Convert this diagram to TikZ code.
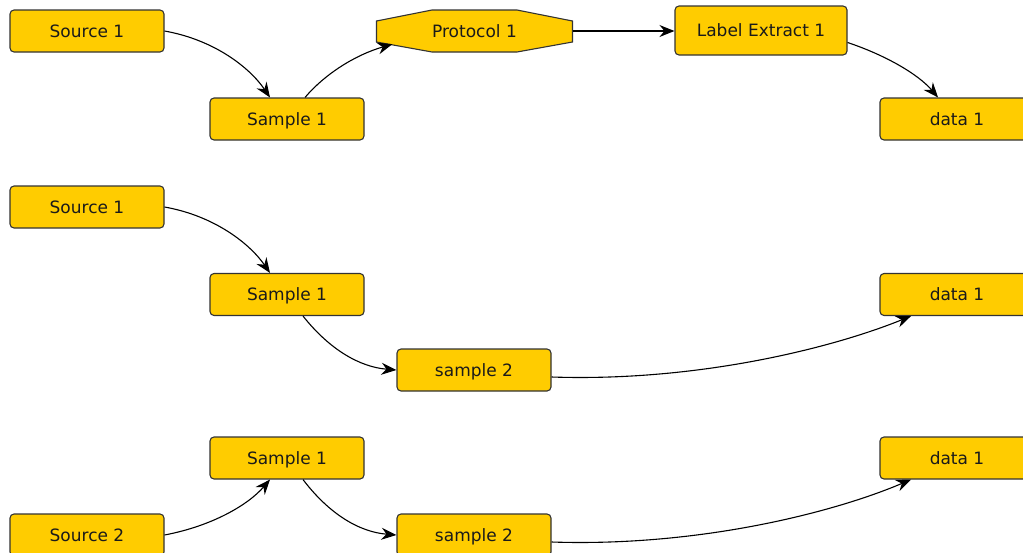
\documentclass[tikz,border=0pt]{standalone}
\usepackage{fontspec}
\setmainfont{DejaVu Sans}
\usetikzlibrary{arrows.meta,calc}
\definecolor{gold}{HTML}{FFCC00}
\definecolor{edgec}{HTML}{333333}
\definecolor{textc}{HTML}{1A1A1A}
\begin{document}
\begin{tikzpicture}[x=1pt,y=-1pt,
  box/.style={draw=edgec, fill=gold, rounded corners=4pt, line width=1.1pt,
    minimum width=154pt, minimum height=42pt, inner sep=0pt,
    text height=12.4pt, text depth=0pt,
    font=\fontsize{17}{20}\selectfont, text=textc},
  octlabel/.style={minimum width=196pt, minimum height=42pt, inner sep=0pt,
    text height=12.4pt, text depth=0pt,
    font=\fontsize{17}{20}\selectfont, text=textc},
  conn/.style={-{Stealth[length=15pt,width=12pt,inset=5pt]}, line width=1.1pt, black}]
\useasboundingbox (0,0) rectangle (1023,552);
\clip (0,0) rectangle (1023,552);

% ---------- row 1 ----------
\node[box] (so1) at (87,31) {Source 1};
\node[box] (sa1) at (287,119) {Sample 1};
\coordinate (pc) at (474.5,31);
\draw[draw=edgec, fill=gold, line width=1.1pt, line join=miter]
  ($(pc)+(-42.5,-21)$) -- ($(pc)+(42.5,-21)$) -- ($(pc)+(98,-10)$) -- ($(pc)+(98,11)$)
  -- ($(pc)+(42.5,21)$) -- ($(pc)+(-42.5,21)$) -- ($(pc)+(-98,11)$) -- ($(pc)+(-98,-10)$) -- cycle;
\node[octlabel] (p1) at (pc) {Protocol 1};
\node[box, minimum width=172pt, minimum height=49pt] (le1) at (761,30.5) {Label Extract 1};
\node[box] (d1) at (957,119) {data 1};

\draw[conn] (so1.east) .. controls (215,40) and (250,68) .. ([xshift=-17pt]sa1.north);
\draw[conn] ([xshift=18pt]sa1.north) .. controls (325,74) and (355,55) .. ($(p1.south west)+(16,-8)$);
\draw[conn] (p1.east) -- (le1.west |- p1.east);
\draw[conn] ([yshift=-12pt]le1.east) .. controls (885,55) and (918,74) .. ([xshift=-19pt]d1.north);

% ---------- row 2 ----------
\node[box] (so2) at (87,207) {Source 1};
\node[box] (sa2) at (287,294.5) {Sample 1};
\node[box] (sb2) at (474,370) {sample 2};
\node[box] (d2) at (957,294.5) {data 1};

\draw[conn] (so2.east) .. controls (215,216) and (250,244) .. ([xshift=-17pt]sa2.north);
\draw[conn] ([xshift=16pt]sa2.south) .. controls (330,350) and (360,367) .. (sb2.west);
\draw[conn] ([yshift=-7pt]sb2.east) .. controls (700,382) and (835,347) .. ([xshift=-46pt]d2.south);

% ---------- row 3 ----------
\node[box] (sa3) at (287,458) {Sample 1};
\node[box] (so3) at (87,535) {Source 2};
\node[box] (sb3) at (474,535) {sample 2};
\node[box] (d3) at (957,458) {data 1};

\draw[conn] (so3.east) .. controls (212,526) and (248,505) .. ([xshift=-17pt]sa3.south);
\draw[conn] ([xshift=16pt]sa3.south) .. controls (330,515) and (360,532) .. (sb3.west);
\draw[conn] ([yshift=-7pt]sb3.east) .. controls (700,547) and (835,512) .. ([xshift=-46pt]d3.south);
\end{tikzpicture}
\end{document}
